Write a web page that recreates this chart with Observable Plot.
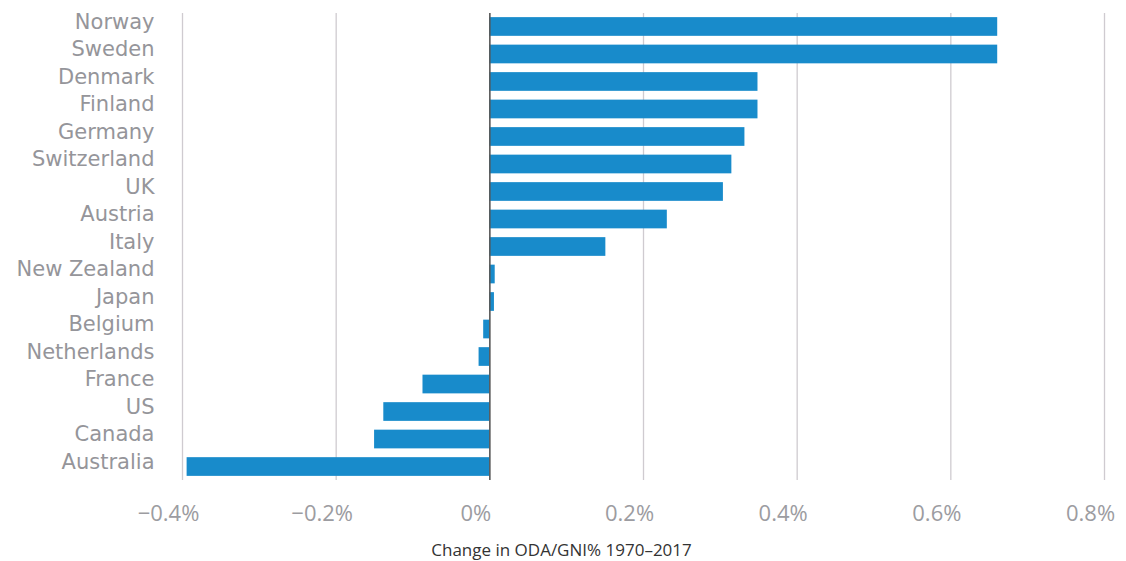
<!DOCTYPE html>
<html>
<head>
<meta charset="utf-8">
<script src="https://cdn.jsdelivr.net/npm/d3@7"></script>
<script src="https://cdn.jsdelivr.net/npm/@observablehq/plot@0.6"></script>
<style>
  html, body { margin: 0; padding: 0; background: #fff; }
  #chart svg { display: block; }
</style>
</head>
<body>
<div id="chart"></div>
<script>
const countries = ["Norway", "Sweden", "Denmark", "Finland", "Germany", "Switzerland", "UK", "Austria", "Italy", "New Zealand", "Japan", "Belgium", "Netherlands", "France", "US", "Canada", "Australia"];
const changes = [0.661, 0.661, 0.349, 0.349, 0.332, 0.315, 0.304, 0.231, 0.151, 0.007, 0.006, -0.008, -0.014, -0.087, -0.138, -0.150, -0.394];
const xTicks = [-0.4, -0.2, 0, 0.2, 0.4, 0.6, 0.8];
const xLabel = "Change in ODA/GNI% 1970–2017";

const data = countries.map((c, i) => ({country: c, value: changes[i]}));
const fmt = d => d === 0 ? "0%" : (d < 0 ? "\u2212" : "") + Math.abs(d).toFixed(1) + "%";

const chart = Plot.plot({
  width: 1126,
  height: 561,
  marginLeft: 182,
  marginRight: 22,
  marginTop: 13,
  marginBottom: 81,
  style: {fontFamily: "'Open Sans', Lato, sans-serif", background: "#fff"},
  x: {domain: [-0.4, 0.8], ticks: xTicks, label: null},
  y: {domain: countries, paddingInner: 0.32, paddingOuter: 0.15, round: false, label: null},
  marks: [
    Plot.gridX(xTicks, {stroke: "#cfcbd0", strokeWidth: 1.3, strokeOpacity: 1}),
    Plot.barX(data, {x: "value", y: "country", fill: "#188bcb"}),
    Plot.ruleX([0], {stroke: "#555", strokeWidth: 1.5}),
    Plot.axisY({tickSize: 0, tickPadding: 28, fontSize: 21, fontFamily: "'DejaVu Sans', sans-serif", fill: "#95959a", dy: -5, label: null}),
    Plot.axisX(xTicks, {tickSize: 0, tickPadding: 25, fontSize: 22, fill: "#9c9ca1", tickFormat: fmt, dx: -14, label: null}),
    Plot.text([xLabel], {frameAnchor: "bottom", dx: -82, dy: 70, lineAnchor: "middle", fontSize: 17, fill: "#333"})
  ]
});
document.getElementById("chart").appendChild(chart);
</script>
</body>
</html>
